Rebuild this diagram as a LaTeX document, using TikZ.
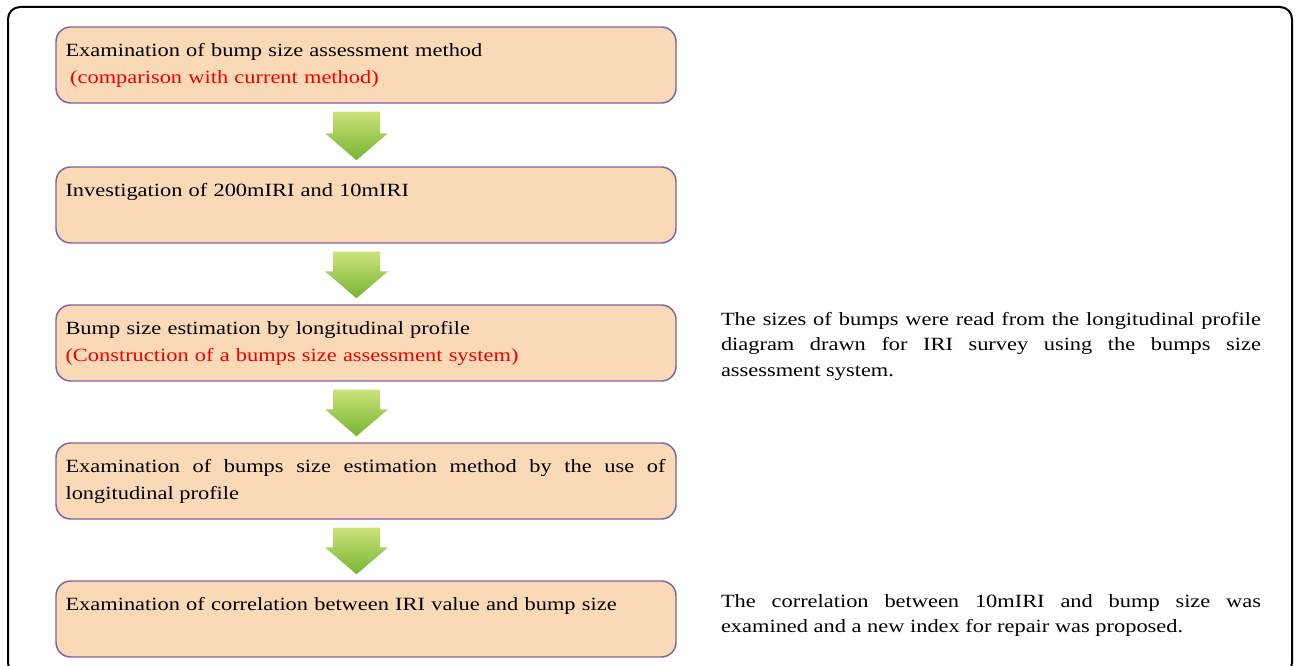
\documentclass[tikz,border=0pt]{standalone}
\usepackage{fontspec}
\setmainfont{Liberation Serif}[FakeStretch=1.2]
\usetikzlibrary{positioning,calc}
\definecolor{boxfill}{RGB}{250,217,183}
\definecolor{boxline}{RGB}{128,100,162}
\definecolor{notered}{RGB}{240,0,0}
\definecolor{arrowtop}{RGB}{204,226,122}
\definecolor{arrowbot}{RGB}{118,180,50}

\begin{document}
\begin{tikzpicture}[x=0.75pt,y=-0.75pt]
    \tikzstyle{every node}=[font=\fontsize{14}{20.25}\selectfont]
    \tikzstyle{stepbox}=[draw=boxline,fill=boxfill,line width=1.1pt,rounded corners=11pt,
                         minimum width=465pt,minimum height=57pt,inner sep=0pt]
    \tikzstyle{steptext}=[anchor=base west,inner sep=0pt,text width=450pt,align=left]
    \tikzstyle{notetext}=[anchor=base west,inner sep=0pt,text width=405pt,align=justify,
                          font=\fontsize{14}{19.1}\selectfont]
    \tikzstyle{greenarrow}=[top color=arrowtop,bottom color=arrowbot,draw=none]

    \useasboundingbox (0,0) rectangle (1300,666);

    %% Outer frame (runs past the bottom edge)
    \draw[line width=1.5pt,rounded corners=9pt] (8,7) rectangle (1292,675);

    %% Flow boxes
    \node[stepbox] (b1) at (366,65) {};
    \node[stepbox,below=46.9pt of b1] (b2) {};
    \node[stepbox,below=45.4pt of b2] (b3) {};
    \node[stepbox,below=45.4pt of b3] (b4) {};
    \node[stepbox,below=45.4pt of b4] (b5) {};

    %% Box texts
    \node[steptext] (t1) at ($(b1.north west)+(10,30)$)
        {Examination of bump size assessment method\\
         \textcolor{notered}{\hspace*{0.25em}(comparison with current method)}};
    \node[steptext] (t2) at ($(b2.north west)+(10,30)$)
        {Investigation of 200mIRI and 10mIRI};
    \node[steptext] (t3) at ($(b3.north west)+(10,30)$)
        {Bump size estimation by longitudinal profile\\
         \textcolor{notered}{(Construction of a bumps size assessment system)}};
    \node[steptext,align=justify,text width=450pt] (t4) at ($(b4.north west)+(10,30)$)
        {Examination of bumps size estimation method by the use of\linebreak
         longitudinal profile};
    \node[steptext] (t5) at ($(b5.north west)+(10,30)$)
        {Examination of correlation between IRI value and bump size};

    %% Notes on the right
    \node[notetext] (r3) at ($(b3.north east)+(44,21)$)
        {The sizes of bumps were read from the longitudinal profile\linebreak
         diagram drawn for IRI survey using the bumps size\linebreak
         assessment system.};
    \node[notetext] (r5) at ($(b5.north east)+(44,27)$)
        {The correlation between 10mIRI and bump size was\linebreak
         examined and a new index for repair was proposed.};

    %% Green block arrows between the boxes
    \foreach \a/\b in {b1/b2,b2/b3,b3/b4,b4/b5}
        \path[greenarrow] ($(\a.south)+(-33,8)$) -- ($(\a.south)+(14,8)$)
            -- ($(\b.north)+(14,-33)$) -- ($(\b.north)+(22,-33)$)
            -- ($(\b.north)+(-9.5,-6)$) -- ($(\b.north)+(-41,-33)$)
            -- ($(\b.north)+(-33,-33)$) -- cycle;
\end{tikzpicture}
\end{document}
